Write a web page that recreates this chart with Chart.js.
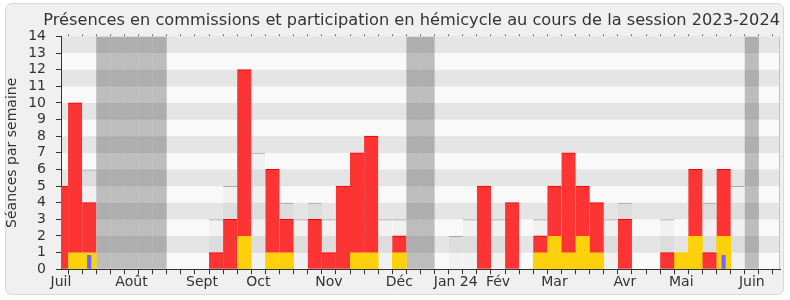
<!DOCTYPE html>
<html>
<head>
<meta charset="utf-8">
<script src="https://cdn.jsdelivr.net/npm/chart.js@4.4.1/dist/chart.umd.min.js"></script>
<style>
  body { margin: 0; background: #fff; }
  canvas { display: block; }
</style>
</head>
<body>
<canvas id="graph" width="790" height="300"></canvas>
<script>
// one entry per week, July 2023 -> June 2024
const weekLabels = [
  'Juil', '', '', '', '', 'Août', '', '', '', '',
  'Sept', '', '', '', 'Oct', '', '', '', '', 'Nov',
  '', '', '', '', 'Déc', '', '', '', 'Jan 24', '',
  '', 'Fév', '', '', '', 'Mar', '', '', '', '',
  'Avr', '', '', '', 'Mai', '', '', '', '', 'Juin',
  '', ''
];

// présences en commission (jaune)
const commission = [
  0, 1, 1, 0, 0, 0, 0, 0, 0, 0,
  0, 0, 0, 2, 0, 1, 1, 0, 0, 0,
  0, 1, 1, 0, 1, 0, 0, 0, 0, 0,
  0, 0, 0, 0, 1, 2, 1, 2, 1, 0,
  0, 0, 0, 0, 1, 2, 0, 2, 0, 0,
  0, 0
];

// participation en hémicycle (rouge, au-dessus des commissions)
const hemicycle = [
  5, 9, 3, 0, 0, 0, 0, 0, 0, 0,
  0, 1, 3, 10, 0, 5, 2, 0, 3, 1,
  5, 6, 7, 0, 1, 0, 0, 0, 0, 0,
  5, 0, 4, 0, 1, 3, 6, 3, 3, 0,
  3, 0, 0, 1, 0, 4, 1, 4, 0, 0,
  0, 0
];

// questions orales (bleu)
const questions = [
  0, 0, 0.85, 0, 0, 0, 0, 0, 0, 0,
  0, 0, 0, 0, 0, 0, 0, 0, 0, 0,
  0, 0, 0, 0, 0, 0, 0, 0, 0, 0,
  0, 0, 0, 0, 0, 0, 0, 0, 0, 0,
  0, 0, 0, 0, 0, 0, 0, 0.85, 0, 0,
  0, 0
];

// médiane des députés (gris clair)
const mediane = [
  0, 0, 6, 0, 0, 0, 0, 0, 0, 0,
  0, 3, 5, 0, 7, 0, 4, 3, 4, 3,
  0, 0, 0, 3, 3, 0, 0, 0, 2, 3,
  0, 3, 0, 0, 3, 0, 0, 0, 0, 3,
  4, 0, 0, 3, 0, 0, 4, 0, 5, 0,
  0, 0
];

const vacances = [3, 4, 5, 6, 7, 25, 26, 49];
const yMax = 14;

const nz = v => v ? v : null;

const fond = {
  id: 'fond',
  beforeDraw(chart) {
    const { ctx, chartArea: a, scales: { y } } = chart;
    ctx.save();
    ctx.fillStyle = '#fff';
    ctx.fillRect(0, 0, chart.width, chart.height);
    ctx.beginPath();
    ctx.roundRect(5.5, 3.5, 778, 291, 6);
    ctx.fillStyle = '#f0f0f0';
    ctx.fill();
    ctx.strokeStyle = '#d8d8d8';
    ctx.lineWidth = 1;
    ctx.stroke();
    for (let v = 0; v < yMax; v++) {
      ctx.fillStyle = v % 2 ? '#e5e5e5' : '#f9f9f9';
      const top = y.getPixelForValue(v + 1);
      const bot = y.getPixelForValue(v);
      ctx.fillRect(a.left, top, a.right - a.left, bot - top);
    }
    ctx.strokeStyle = '#c4c4c4';
    ctx.beginPath();
    ctx.moveTo(Math.round(a.right) - 0.5, a.top);
    ctx.lineTo(Math.round(a.right) - 0.5, a.bottom);
    ctx.stroke();
    ctx.restore();
  }
};

Chart.defaults.font.family = 'DejaVu Sans';
Chart.defaults.color = '#333';

const ctx = document.getElementById('graph').getContext('2d');
new Chart(ctx, {
  type: 'bar',
  data: {
    labels: weekLabels,
    datasets: [
      {
        label: 'Questions orales',
        data: questions.map(nz),
        backgroundColor: '#6a6aff',
        grouped: false,
        barPercentage: 0.3,
        categoryPercentage: 1
      },
      {
        label: 'Hémicycle',
        data: hemicycle.map((h, i) => h ? [commission[i], commission[i] + h] : null),
        backgroundColor: '#fc3434',
        borderColor: '#f00000',
        borderWidth: { top: 1, left: 0, right: 0, bottom: 0 },
        borderSkipped: false,
        grouped: false,
        barPercentage: 1,
        categoryPercentage: 1
      },
      {
        label: 'Commissions',
        data: commission.map(nz),
        backgroundColor: '#fdd20c',
        grouped: false,
        barPercentage: 1,
        categoryPercentage: 1
      },
      {
        label: 'Vacances',
        data: weekLabels.map((_, i) => vacances.includes(i) ? yMax : null),
        backgroundColor: 'rgba(0, 0, 0, 0.24)',
        inflateAmount: 0,
        grouped: false,
        barPercentage: 1,
        categoryPercentage: 1
      },
      {
        label: 'Médiane',
        data: mediane.map(nz),
        backgroundColor: 'rgba(0, 0, 0, 0.03)',
        borderColor: '#a8a8a8',
        borderWidth: { top: 1, left: 0, right: 0, bottom: 0 },
        inflateAmount: 0,
        grouped: false,
        barPercentage: 1,
        categoryPercentage: 1
      }
    ]
  },
  options: {
    responsive: false,
    animation: false,
    layout: { padding: { left: 0, right: 10, top: 0, bottom: 9 } },
    plugins: {
      legend: { display: false },
      tooltip: { enabled: false },
      title: {
        display: true,
        text: 'Présences en commissions et participation en hémicycle au cours de la session 2023-2024',
        align: 'end',
        color: '#333',
        font: { size: 16.2, weight: 'normal' },
        padding: { top: 11, bottom: 3 }
      }
    },
    scales: {
      x: {
        type: 'category',
        offset: false,
        grid: { drawOnChartArea: false, tickLength: 5, color: '#333' },
        border: { color: '#333' },
        ticks: { autoSkip: false, maxRotation: 0, color: '#333', font: { size: 14 }, padding: 0 }
      },
      x2: {
        type: 'category',
        position: 'top',
        offset: false,
        grid: { drawOnChartArea: false, tickLength: 2, color: '#555' },
        border: { display: false },
        ticks: { display: false },
        afterFit: s => { s.height = 3; }
      },
      y: {
        min: 0,
        max: yMax,
        grid: { drawOnChartArea: false, tickLength: 5, color: '#333' },
        border: { color: '#333' },
        ticks: { stepSize: 1, autoSkip: false, color: '#333', font: { size: 14 }, padding: 10 },
        title: { display: true, text: 'Séances par semaine', color: '#333', font: { size: 14 } },
        afterFit: s => { s.width = 61; }
      }
    }
  },
  plugins: [fond]
});
</script>
</body>
</html>
